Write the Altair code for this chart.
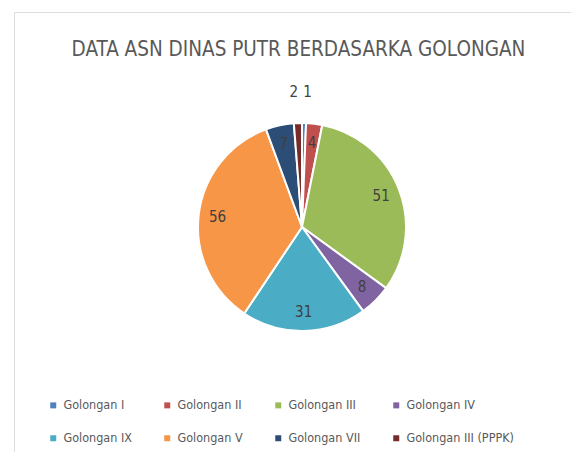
import altair as alt
import pandas as pd

categories = ["Golongan I", "Golongan II", "Golongan III", "Golongan IV",
              "Golongan IX", "Golongan V", "Golongan VII", "Golongan III (PPPK)"]
values = [1, 4, 51, 8, 31, 56, 7, 2]
colors = ["#4F81BD", "#C0504D", "#9BBB59", "#8064A2",
          "#4BACC6", "#F79646", "#2C4D75", "#772C2A"]

df = pd.DataFrame({"gol": categories, "v": values, "idx": list(range(len(values)))})

FONT = "Liberation Sans Narrow, DejaVu Sans Condensed, Arial Narrow, sans-serif"
CX, CY = 288, 215

base = alt.Chart(df).encode(
    theta=alt.Theta("v:Q", stack=True),
    order=alt.Order("idx:Q", sort="ascending"),
    x=alt.value(CX), y=alt.value(CY),
)

pie = base.mark_arc(outerRadius=104, stroke="white", strokeWidth=2).encode(
    color=alt.Color(
        "gol:N",
        scale=alt.Scale(domain=categories, range=colors),
        sort=None,
        legend=alt.Legend(
            title=None, orient="none", legendX=33, legendY=387,
            columns=4, direction="horizontal",
            symbolType="square", symbolSize=36, symbolStrokeWidth=0,
            labelFont=FONT, labelFontSize=12.5, labelColor="#595959",
            labelOffset=4, columnPadding=29, rowPadding=20,
        ),
    ),
)

txt = dict(font=FONT, fontSize=15, color="#404040", baseline="middle")

inner = base.mark_text(radius=85, align="center", **txt).encode(
    text=alt.condition("datum.v >= 3", alt.Text("v:Q"), alt.value("")),
)

outer_two = base.mark_text(radius=135, align="center", dx=-3, **txt).encode(
    text=alt.condition("datum.v == 2", alt.Text("v:Q"), alt.value("")),
)

outer_one = base.mark_text(radius=135, align="center", dx=3, **txt).encode(
    text=alt.condition("datum.v == 1", alt.Text("v:Q"), alt.value("")),
)

chart = alt.layer(pie, inner, outer_two, outer_one).properties(
    width=557, height=440,
    autosize=alt.AutoSizeParams(type="none"),
    padding={"left": 6, "top": 4, "right": 0, "bottom": 0},
    title=alt.TitleParams(
        "DATA ASN DINAS PUTR BERDASARKA GOLONGAN",
        font=FONT, fontSize=20.5, fontWeight="normal", color="#595959",
        anchor="middle", offset=-64, baseline="alphabetic", dx=6,
    ),
).configure_view(stroke="#D9D9D9", strokeWidth=1.5).configure(background="white")

chart.save("out.html", embed_options={"renderer": "svg", "actions": False})
